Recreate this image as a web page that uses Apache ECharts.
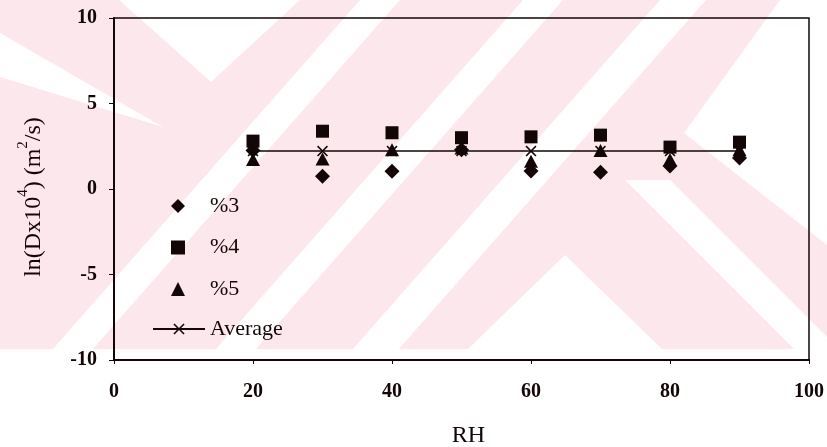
<!DOCTYPE html>
<html>
<head>
<meta charset="utf-8">
<script src="https://cdn.jsdelivr.net/npm/echarts@6/dist/echarts.min.js"></script>
<style>
html,body{margin:0;padding:0;background:#fff;}
#chart{width:827px;height:447px;}
</style>
</head>
<body>
<div id="chart"></div>
<script>
// ---- data ----
const rh = [20, 30, 40, 50, 60, 70, 80, 90];
const p3 = [2.25, 0.75, 1.04, 2.3, 1.05, 0.98, 1.35, 1.82];
const p4 = [2.8, 3.38, 3.29, 3.0, 3.05, 3.15, 2.45, 2.74];
const p5 = [1.72, 1.75, 2.3, 2.4, 1.62, 2.25, 1.72, 2.3];
const avg = [2.22, 2.22, 2.22, 2.22, 2.22, 2.22, 2.22, 2.22];
const seriesNames = ['%3', '%4', '%5', 'Average'];
const xTicks = [0, 20, 40, 60, 80, 100];
const yTicks = [-10, -5, 0, 5, 10];

const pairs = v => rh.map((x, i) => [x, v[i]]);
const ink = '#120606';
const serif = '"Liberation Serif", "Times New Roman", serif';
const xPath = 'path://M0,1L1,0L5,4L9,0L10,1L6,5L10,9L9,10L5,6L1,10L0,9L4,5Z';

// watermark (decorative background)
const pink = '#fce8ec';
function band(topA, topB, k, y0, y1) {
  return [[topA - k * y0, y0], [topB - k * y0, y0], [topB - k * y1, y1], [topA - k * y1, y1]];
}
const whiteShapes = [
  [[119, 0], [300, 0], [211, 82]],
  band(360, 400, 0.88, 0, 349),
  band(523, 563, 0.88, 0, 349),
  band(660, 706, 0.88, 0, 349),
  [[780, 0], [827, 0], [827, 245], [684, 133]],
  [[565, 255], [468, 349], [662, 349]],
  [[0, 33], [0, 77], [163, 127]],
  [[625, 180], [670, 180], [827, 337], [827, 349], [794, 349]]
];
const graphics = [{
  type: 'rect', z: -100, silent: true,
  shape: {x: 0, y: 0, width: 827, height: 349},
  style: {fill: pink}
}].concat(whiteShapes.map(p => ({
  type: 'polygon', z: -99, silent: true,
  shape: {points: p}, style: {fill: '#fff'}
})));

const legendText = {fontFamily: serif, fontSize: 22, color: ink, lineHeight: 22};

const chart = echarts.init(document.getElementById('chart'), null, {renderer: 'canvas'});
chart.setOption({
  backgroundColor: '#fff',
  animation: false,
  graphic: graphics,
  grid: {left: 114, right: 18, top: 18, bottom: 87, show: true, containLabel: false,
         outerBoundsMode: 'none',
         borderColor: ink, borderWidth: 1.5, backgroundColor: 'transparent'},
  legend: [{
    orient: 'vertical', left: 166, top: 190, itemWidth: 14, itemHeight: 14, itemGap: 19.5,
    data: seriesNames.slice(0, 3),
    textStyle: Object.assign({padding: [0, 0, 0, 20]}, legendText),
    inactiveColor: ink
  }, {
    orient: 'vertical', left: 147, top: 313, itemWidth: 52, itemHeight: 14,
    data: seriesNames.slice(3),
    textStyle: Object.assign({padding: [0, 0, 0, 0]}, legendText),
    inactiveColor: ink
  }],
  xAxis: {
    type: 'value', min: 0, max: 100, interval: 20,
    name: 'RH', nameLocation: 'middle', nameGap: 64,
    nameTextStyle: {fontFamily: serif, fontSize: 24, color: ink, padding: [0, 0, 0, 14]},
    axisLine: {onZero: false, lineStyle: {color: ink, width: 2}},
    axisTick: {show: true, length: 4, lineStyle: {color: ink}},
    axisLabel: {margin: 22, fontFamily: serif, fontSize: 20, fontWeight: 'bold', color: ink,
                formatter: v => xTicks.includes(v) ? String(v) : ''},
    splitLine: {show: false}
  },
  yAxis: {
    type: 'value', min: -10, max: 10, interval: 5,
    name: '{a|ln(Dx10}{s|4}{a|) (m}{s|2}{a|/s)}', nameLocation: 'middle', nameGap: 68, nameRotate: 90,
    nameTextStyle: {
      padding: [0, 16, 0, 0],
      rich: {
        a: {fontFamily: serif, fontSize: 24, color: ink, lineHeight: 30, verticalAlign: 'bottom'},
        s: {fontFamily: serif, fontSize: 15, color: ink, lineHeight: 30, verticalAlign: 'top'}
      }
    },
    axisLine: {onZero: false, lineStyle: {color: ink, width: 2}},
    axisTick: {show: true, length: 5, lineStyle: {color: ink}},
    axisLabel: {margin: 17, fontFamily: serif, fontSize: 20, fontWeight: 'bold', color: ink,
                formatter: v => yTicks.includes(v) ? String(v) : ''},
    splitLine: {show: false}
  },
  series: [
    {name: seriesNames[0], type: 'scatter', data: pairs(p3), symbol: 'diamond', symbolSize: [15, 15],
     itemStyle: {color: ink, opacity: 1}},
    {name: seriesNames[1], type: 'scatter', data: pairs(p4), symbol: 'rect', symbolSize: [13, 13],
     itemStyle: {color: ink, opacity: 1}},
    {name: seriesNames[2], type: 'scatter', data: pairs(p5), symbol: 'triangle', symbolSize: [14, 13],
     itemStyle: {color: ink, opacity: 1}},
    {name: seriesNames[3], type: 'line', data: pairs(avg), symbol: xPath, symbolSize: 11,
     lineStyle: {color: ink, width: 1.5}, itemStyle: {color: ink, opacity: 1}, z: 1}
  ]
});
</script>
</body>
</html>
